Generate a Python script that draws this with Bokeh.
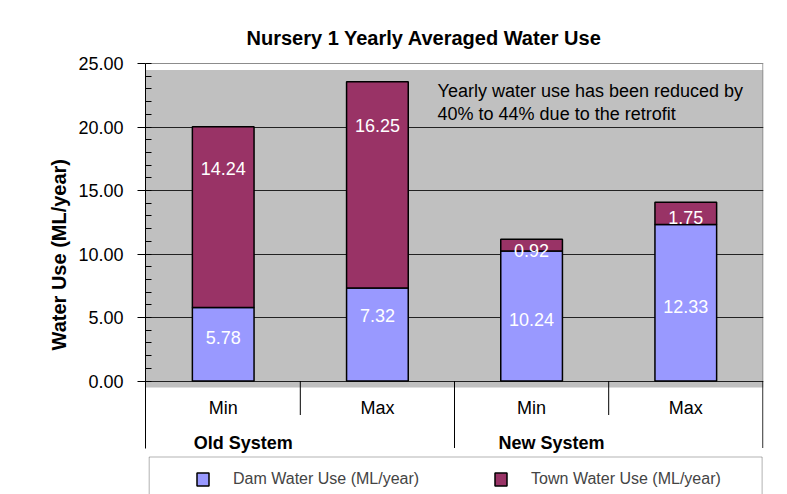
from bokeh.plotting import figure
from bokeh.models import (ColumnDataSource, FactorRange, Range1d, FixedTicker,
                          NumeralTickFormatter, BoxAnnotation, Span, Label,
                          Legend, LegendItem, Title)
from bokeh.core.properties import value
from bokeh.embed import file_html
from bokeh.resources import INLINE

# ---------------- data ----------------
groups = ["Old System", "Old System", "New System", "New System"]
levels = ["Min", "Max", "Min", "Max"]
dam_use = [5.78, 7.32, 10.24, 12.33]
town_use = [14.24, 16.25, 0.92, 1.75]
series_names = ["Dam Water Use (ML/year)", "Town Water Use (ML/year)"]
y_ticks = [0, 5, 10, 15, 20, 25]
title_text = "Nursery 1 Yearly Averaged Water Use"
y_title = "Water Use (ML/year)"
note_lines = ["Yearly water use has been reduced by", "40% to 44% due to the retrofit"]

# ---------------- styles / layout ----------------
FONT = "Liberation Sans"
DAM_COLOR = "#9999FF"
TOWN_COLOR = "#993366"
PLOT_GRAY = "#C0C0C0"
BORDER_GRAY = "#8C8C8C"
W, H = 787, 494
MB_LEFT, MB_RIGHT, MB_TOP = 145, 24, 62
UNIT_PX = 12.7                       # vertical pixels per ML/year


def px(n):
    return n / UNIT_PX


Y_TOP = y_ticks[-1] + px(1)
Y_BOTTOM = Y_TOP - px(H - MB_TOP)

SUB_SEP = px(34)
GROUP_SEP = px(67)
LEGEND_TOP = px(76)
SHADOW = px(6.5)
dam_label_shift = [-7, -19, 4, 4]
town_label_shift = [-49, -59, 5, 4]

factors = list(zip(groups, levels))
n = len(factors)

x_range = FactorRange(*factors, factor_padding=0, group_padding=0,
                      subgroup_padding=0, range_padding=0.004,
                      range_padding_units="absolute")

p = figure(width=W, height=H, x_range=x_range,
           y_range=Range1d(Y_BOTTOM, Y_TOP),
           output_backend="svg", toolbar_location=None, x_axis_location=None,
           min_border_left=MB_LEFT, min_border_right=MB_RIGHT,
           min_border_top=MB_TOP, min_border_bottom=0,
           background_fill_color="white", border_fill_color="white",
           outline_line_color=None)

# title
p.title.text = title_text
p.title.align = "left"
p.title.offset = 101
p.title.standoff = 27
p.title.text_font = FONT
p.title.text_font_size = "20px"
p.title.text_font_style = "bold"
p.title.text_color = "black"

# y axis
yax = p.yaxis[0]
yax.ticker = FixedTicker(ticks=y_ticks,
                         minor_ticks=list(range(y_ticks[0], y_ticks[-1] + 1)))
yax.formatter = NumeralTickFormatter(format="0.00")
yax.bounds = (-GROUP_SEP, y_ticks[-1])
yax.major_label_text_font = FONT
yax.major_label_text_font_size = "18px"
yax.major_label_text_color = "black"
yax.major_label_standoff = 14
yax.major_tick_in = 0
yax.major_tick_out = 8
yax.minor_tick_in = 6
yax.minor_tick_out = 0
yax.axis_line_color = "black"
yax.major_tick_line_color = "black"
yax.minor_tick_line_color = "black"

# y-axis title (placed like the original, a little above the frame centre)
p.add_layout(Title(text=y_title, align="left", offset=144, standoff=12,
                   text_font=FONT, text_font_size="20px",
                   text_font_style="bold", text_color="black"), "left")

# grid
p.xgrid.visible = False
p.ygrid.ticker = FixedTicker(ticks=y_ticks[:-1])
p.ygrid.grid_line_color = "#222222"
p.ygrid.grid_line_width = 1

# plot-area background (with its slight shadow offset)
p.add_layout(BoxAnnotation(bottom=y_ticks[0] - SHADOW, top=y_ticks[-1] - SHADOW,
                           fill_color=PLOT_GRAY, fill_alpha=1, line_color=None,
                           level="image"))
p.add_layout(Span(location=y_ticks[-1], dimension="width",
                  line_color=BORDER_GRAY, line_width=1, level="underlay"))
p.segment(x0=[n], y0=[y_ticks[0]], x1=[n], y1=[y_ticks[-1]],
          line_color=BORDER_GRAY, line_width=1, level="underlay")

# bars
src = ColumnDataSource(dict(x=factors, dam=dam_use, town=town_use))
rs = p.vbar_stack(["dam", "town"], x="x", width=0.4,
                  color=[DAM_COLOR, TOWN_COLOR], line_color="black",
                  line_width=1.5, source=src)

# value labels
lx, ly, lt, ld = [], [], [], []
for i, f in enumerate(factors):
    d, t = dam_use[i], town_use[i]
    lx += [f, f]
    ly += [d / 2, d + t / 2]
    lt += [f"{d:.2f}", f"{t:.2f}"]
    ld += [dam_label_shift[i], town_label_shift[i]]
p.text(x="x", y="y", text="t", y_offset="dy",
       source=ColumnDataSource(dict(x=lx, y=ly, t=lt, dy=ld)),
       text_color="white", text_font=value(FONT), text_font_size="18px",
       text_align="center", text_baseline="middle")

# category band: separators, sub labels, group labels
sx, sy0, sy1 = [], [], []
for b in range(1, n + 1):
    edge = (b == n) or (groups[b] != groups[b - 1])
    sx.append(b)
    sy0.append(y_ticks[0])
    sy1.append(-(GROUP_SEP if edge else SUB_SEP))
p.segment(x0=sx, y0=sy0, x1=sx, y1=sy1, line_color="black", line_width=1)

p.text(x=factors, y=[y_ticks[0]] * n, text=levels, y_offset=27,
       text_color="black", text_font=value(FONT), text_font_size="18px",
       text_align="center", text_baseline="middle")

g_first = [f for i, f in enumerate(factors) if i == 0 or groups[i] != groups[i - 1]]
p.text(x=g_first, y=[y_ticks[0]] * len(g_first), text=[g for g, _ in g_first],
       y_offset=62, x_offset=20,
       text_color="black", text_font=value(FONT), text_font_size="18px",
       text_font_style="bold", text_align="center", text_baseline="middle")

# note
for k, line in enumerate(note_lines):
    p.add_layout(Label(x=1.89, y=y_ticks[-1] - px(27) - k * px(23), text=line,
                       text_font=FONT, text_font_size="18px", text_color="black",
                       text_baseline="middle", text_align="left"))

# legend box + legend
p.add_layout(BoxAnnotation(left=0.02, right=n - 0.005, top=-LEGEND_TOP,
                           bottom=Y_BOTTOM - 2, fill_color="white", fill_alpha=1,
                           line_color="black", line_width=1))
legend = Legend(items=[LegendItem(label=series_names[0], renderers=[rs[0]]),
                       LegendItem(label=series_names[1], renderers=[rs[1]])],
                orientation="horizontal", location=(50, 6), padding=0,
                spacing=74, label_standoff=23, glyph_width=15, glyph_height=16,
                label_height=16, label_text_font=FONT,
                label_text_font_size="16px", border_line_color=None,
                background_fill_alpha=0, margin=0)
p.add_layout(legend)

open("out.html", "w").write(file_html(p, INLINE))
